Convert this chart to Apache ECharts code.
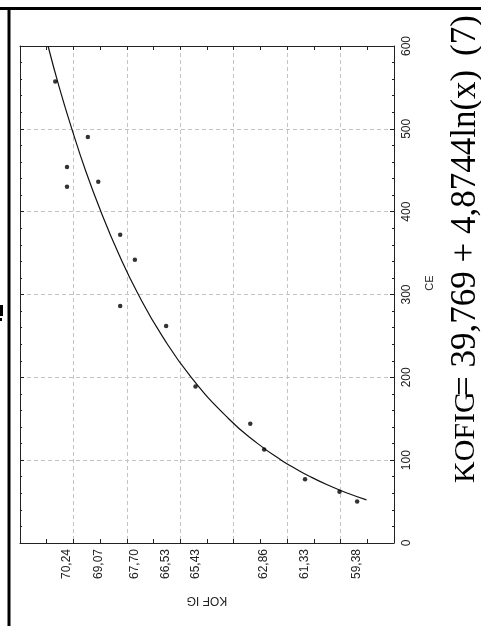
<!DOCTYPE html>
<html>
<head>
<meta charset="utf-8">
<script src="https://cdn.jsdelivr.net/npm/echarts@6/dist/echarts.min.js"></script>
<style>
html,body{margin:0;padding:0;background:#fff;}
#chart{width:481px;height:626px;}
</style>
</head>
<body>
<div id="chart"></div>
<script>
// Observed points: CE (vertical axis) and KOF IG (horizontal axis)
const ceValues  = [557, 490, 454, 436, 430, 372, 342, 286, 262, 189, 144, 113, 77, 62, 50];
const kofValues = [70.68, 69.46, 70.24, 69.07, 70.24, 68.25, 67.70, 68.25, 66.53, 65.43, 63.38, 62.86, 61.33, 60.04, 59.38];

// Fitted curve
const ceFit  = [52, 60, 70, 80, 90, 100, 120, 150, 200, 250, 300, 350, 400, 450, 500, 550, 600];
const kofFit = [59.03, 59.73, 60.48, 61.13, 61.70, 62.22, 63.10, 64.19, 65.59, 66.68, 67.57, 68.32, 68.97, 69.55, 70.06, 70.53, 70.95];

// Tick labels on the KOF IG axis
const kofLabelValues = [70.24, 69.07, 67.70, 66.53, 65.43, 62.86, 61.33, 59.38];

const equationName = 'KOFIG';
const equationRest = '= 39,769 + 4,8744ln(x)';
const equationNo = '(7)';
const xTitle = 'KOF IG';
const yTitle = 'CE';

const FONT = "'Liberation Sans', Arial, sans-serif";
const SERIF = "'Liberation Serif', 'Times New Roman', serif";
const INK = '#222';

const chart = echarts.init(document.getElementById('chart'), null, {renderer: 'canvas'});

const kofAxisBase = {
  type: 'value', min: 58, max: 72, interval: 2, inverse: true,
  axisLine: {show: true, onZero: false, lineStyle: {color: INK, width: 1}},
  axisTick: {show: true, inside: true, length: 4, lineStyle: {color: INK, width: 1}},
  minorTick: {show: true, splitNumber: 2, length: 4, lineStyle: {color: INK, width: 1}},
  minorSplitLine: {show: false}
};
const ceAxisBase = {
  type: 'value', min: 0, max: 600, interval: 100,
  axisLine: {show: true, onZero: false, lineStyle: {color: INK, width: 1}},
  axisTick: {show: true, inside: true, length: 4, lineStyle: {color: INK, width: 1}},
  minorTick: {show: true, splitNumber: 5, length: 2, lineStyle: {color: INK, width: 1}},
  minorSplitLine: {show: false}
};

const option = {
  backgroundColor: '#fff',
  animation: false,
  grid: {left: 20, right: 87, top: 46, bottom: 83, containLabel: false},
  xAxis: [
    Object.assign({}, kofAxisBase, {
      position: 'bottom',
      axisLabel: {
        show: true, rotate: 90, margin: 6, fontSize: 12, fontFamily: FONT, color: INK,
        customValues: kofLabelValues,
        formatter: v => Number(v).toFixed(2).replace('.', ',')
      },
      splitLine: {show: true, showMinLine: false, showMaxLine: false,
                  lineStyle: {color: '#c4c4c4', width: 1, type: [4, 3]}}
    }),
    Object.assign({}, kofAxisBase, {
      position: 'top',
      axisLabel: {show: false},
      splitLine: {show: false}
    })
  ],
  yAxis: [
    Object.assign({}, ceAxisBase, {
      position: 'right',
      axisLabel: {show: true, rotate: 90, margin: 7, fontSize: 12, fontFamily: FONT, color: INK},
      splitLine: {show: true, showMinLine: false, showMaxLine: false,
                  lineStyle: {color: '#c4c4c4', width: 1, type: [4, 3]}}
    }),
    Object.assign({}, ceAxisBase, {
      position: 'left',
      axisLabel: {show: false},
      splitLine: {show: false}
    })
  ],
  series: [
    {
      type: 'line', xAxisIndex: 0, yAxisIndex: 0,
      data: kofFit.map((k, i) => [k, ceFit[i]]),
      symbol: 'none', smooth: true, clip: true,
      lineStyle: {color: '#111', width: 1.2}, z: 3
    },
    {
      type: 'scatter', xAxisIndex: 0, yAxisIndex: 0,
      data: kofValues.map((k, i) => [k, ceValues[i]]),
      symbol: 'circle', symbolSize: 4.5,
      itemStyle: {color: '#000'}, z: 4
    }
  ],
  graphic: [
    {type: 'line', shape: {x1: 0, y1: 8.5, x2: 481, y2: 8.5}, style: {stroke: '#000', lineWidth: 3}},
    {type: 'line', shape: {x1: 9, y1: 8, x2: 9, y2: 626}, style: {stroke: '#000', lineWidth: 3}},
    {type: 'rect', shape: {x: 0, y: 305, width: 3, height: 11}, style: {fill: '#000'}},
    {type: 'rect', shape: {x: 0, y: 318, width: 2, height: 3}, style: {fill: '#000'}},
    {type: 'text', x: 207, y: 600, rotation: Math.PI,
     style: {text: xTitle, font: '12px ' + FONT, fill: INK,
             align: 'center', verticalAlign: 'middle', textAlign: 'center', textVerticalAlign: 'middle'}},
    {type: 'text', x: 430, y: 283, rotation: Math.PI / 2,
     style: {text: yTitle, font: '11px ' + FONT, fill: INK,
             align: 'center', verticalAlign: 'middle', textAlign: 'center', textVerticalAlign: 'middle'}},
    {type: 'text', x: 466, y: 483, rotation: Math.PI / 2,
     style: {text: equationName, font: '30px ' + SERIF, fill: '#000',
             align: 'left', verticalAlign: 'middle', textAlign: 'left', textVerticalAlign: 'middle'}},
    {type: 'text', x: 466, y: 396, rotation: Math.PI / 2,
     style: {text: equationRest, font: '35px ' + SERIF, fill: '#000',
             align: 'left', verticalAlign: 'middle', textAlign: 'left', textVerticalAlign: 'middle'}},
    {type: 'text', x: 466, y: 56, rotation: Math.PI / 2,
     style: {text: equationNo, font: '35px ' + SERIF, fill: '#000',
             align: 'left', verticalAlign: 'middle', textAlign: 'left', textVerticalAlign: 'middle'}}
  ]
};
chart.setOption(option);
</script>
</body>
</html>
